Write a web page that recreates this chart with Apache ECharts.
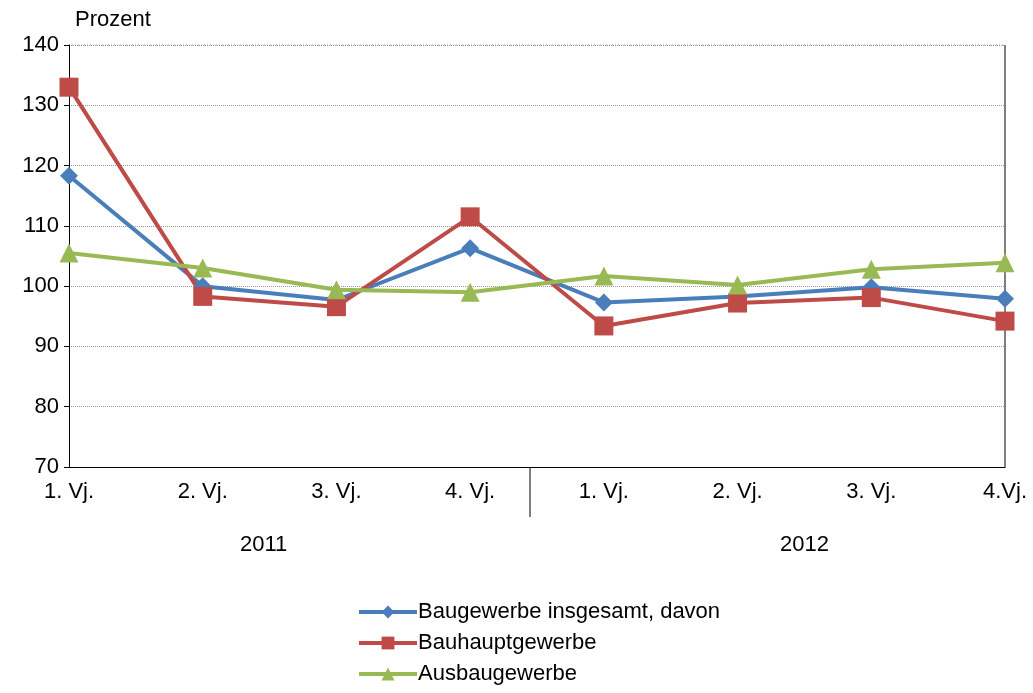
<!DOCTYPE html>
<html><head><meta charset="utf-8">
<script src="https://cdn.jsdelivr.net/npm/echarts@6/dist/echarts.min.js"></script>
<style>html,body{margin:0;padding:0;background:#fff}#c{width:1033px;height:693px}</style>
</head><body><div id="c"></div>
<script>
var quarters = ['1. Vj.','2. Vj.','3. Vj.','4. Vj.','1. Vj.','2. Vj.','3. Vj.','4.Vj.'];
var years = ['2011','2012'];
var insgesamt = [118.3,100.0,97.7,106.3,97.3,98.3,99.8,97.9];
var bauhaupt = [133.0,98.3,96.6,111.5,93.4,97.2,98.1,94.2];
var ausbau = [105.5,103.0,99.4,99.0,101.7,100.2,102.8,103.9];

var chart = echarts.init(document.getElementById('c'));
var font = 'Liberation Sans, Arial, sans-serif';
var fs = 22;
function line(name, data, color, symbol, size) {
  return {name: name, type: 'line', data: data, symbol: symbol, symbolSize: size,
    lineStyle: {color: color, width: 4}, itemStyle: {color: color}};
}
chart.setOption({
  animation: false,
  textStyle: {fontFamily: font},
  grid: {left: 69, right: 28, top: 45, bottom: 226},
  legend: {orient: 'vertical', left: 352, top: 596, itemGap: 9, itemWidth: 58, itemHeight: 16,
    textStyle: {fontSize: fs, color: '#000', fontFamily: font, padding: [0,0,0,-4]},
    lineStyle: {width: 4},
    data: ['Baugewerbe insgesamt, davon','Bauhauptgewerbe','Ausbaugewerbe']},
  xAxis: {type: 'category', data: quarters, boundaryGap: false,
    axisLine: {lineStyle: {color: '#000', width: 1}}, axisTick: {show: false},
    axisLabel: {fontSize: fs, color: '#000', margin: 14}},
  yAxis: {type: 'value', min: 70, max: 140, interval: 10,
    name: 'Prozent', nameLocation: 'end', nameGap: 14,
    nameTextStyle: {fontSize: fs, color: '#000', align: 'left', padding: [0,0,0,6]},
    axisLine: {show: true, lineStyle: {color: '#000'}},
    axisTick: {show: true, length: 5, inside: false, lineStyle: {color: '#000'}},
    axisLabel: {fontSize: fs, color: '#000', margin: 10},
    splitLine: {lineStyle: {color: '#999', type: 'dotted'}}},
  series: [
    line('Baugewerbe insgesamt, davon', insgesamt, '#4a7ebb', 'diamond', 18),
    line('Bauhauptgewerbe', bauhaupt, '#be4b48', 'rect', 19),
    line('Ausbaugewerbe', ausbau, '#98b954', 'triangle', 19)
  ]
});
var p0 = chart.convertToPixel({xAxisIndex: 0}, 0);
var p3 = chart.convertToPixel({xAxisIndex: 0}, 3);
var p4 = chart.convertToPixel({xAxisIndex: 0}, 4);
var p7 = chart.convertToPixel({xAxisIndex: 0}, 7);
var yb = chart.convertToPixel({yAxisIndex: 0}, 70);
var sep = (p3 + p4) / 2 - 7;
chart.setOption({graphic: [
  {type: 'line', shape: {x1: sep, y1: yb, x2: sep, y2: yb + 50}, style: {stroke: '#000', lineWidth: 1}},
  {type: 'line', shape: {x1: p7, y1: 45, x2: p7, y2: yb}, style: {stroke: '#000', lineWidth: 1}},
  {type: 'line', shape: {x1: 69, y1: 45, x2: p7, y2: 45}, style: {stroke: '#999', lineWidth: 1, lineDash: [1,2]}},
  {type: 'text', x: (p0 + p3) / 2 - 6, y: yb + 78, style: {text: years[0], fontSize: fs, fill: '#000', fontFamily: font, align: 'center', verticalAlign: 'middle'}},
  {type: 'text', x: (p4 + p7) / 2, y: yb + 78, style: {text: years[1], fontSize: fs, fill: '#000', fontFamily: font, align: 'center', verticalAlign: 'middle'}}
]});
</script></body></html>
